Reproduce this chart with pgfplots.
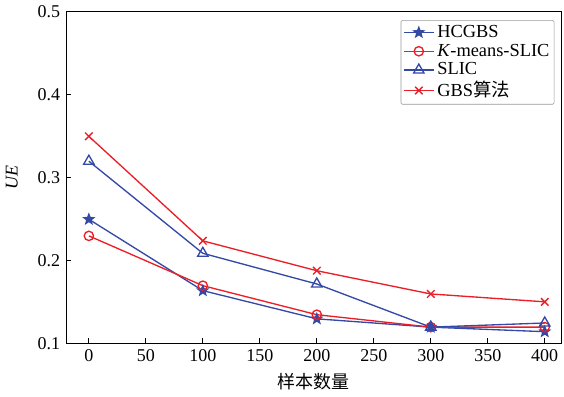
\documentclass[border=0pt]{standalone}
\usepackage{pgfplots}
\pgfplotsset{compat=1.18}
\usepackage{fontspec}
\setmainfont{Liberation Serif}
\newfontfamily\cjk{Noto Sans CJK SC}
\definecolor{cblue}{RGB}{52,72,165}
\definecolor{cred}{RGB}{235,30,40}
\pgfdeclareplotmark{fstar}{%
  \pgfpathmoveto{\pgfqpointpolar{90}{\pgfplotmarksize}}%
  \pgfpathlineto{\pgfqpointpolar{126}{0.42\pgfplotmarksize}}%
  \pgfpathlineto{\pgfqpointpolar{162}{\pgfplotmarksize}}%
  \pgfpathlineto{\pgfqpointpolar{198}{0.42\pgfplotmarksize}}%
  \pgfpathlineto{\pgfqpointpolar{234}{\pgfplotmarksize}}%
  \pgfpathlineto{\pgfqpointpolar{270}{0.42\pgfplotmarksize}}%
  \pgfpathlineto{\pgfqpointpolar{306}{\pgfplotmarksize}}%
  \pgfpathlineto{\pgfqpointpolar{342}{0.42\pgfplotmarksize}}%
  \pgfpathlineto{\pgfqpointpolar{18}{\pgfplotmarksize}}%
  \pgfpathlineto{\pgfqpointpolar{54}{0.42\pgfplotmarksize}}%
  \pgfpathclose\pgfusepathqfillstroke}
\begin{document}
\fontsize{13pt}{15pt}\selectfont
\begin{tikzpicture}
\begin{axis}[
  scale only axis,
  width=372pt, height=249pt,
  xmin=-20, xmax=415,
  ymin=0.1, ymax=0.5,
  xtick={0,50,...,400},
  ytick={0.1,0.2,0.3,0.4,0.5},
  yticklabel style={/pgf/number format/.cd,fixed,fixed zerofill,precision=1},
  /pgf/number format/assume math mode=true,
  tick align=inside,
  xtick pos=bottom, ytick pos=left,
  major tick length=4pt,
  tick style={black, line width=0.6pt},
  axis line style={line width=0.8pt},
  ticklabel style={font=\fontsize{13.5pt}{15pt}\selectfont},
  xlabel={{\cjk 样本数量}},
  ylabel={\textit{UE}},
  ylabel style={yshift=6pt},
  label style={font=\fontsize{13.5pt}{15pt}\selectfont},
  legend style={font=\fontsize{13.8pt}{15pt}\selectfont, draw=black!40, rounded corners=1pt, at={(0.985,0.975)}, anchor=north east, inner sep=1.5pt, row sep=-1pt},
  legend cell align=left,
  legend image code/.code={\draw[mark repeat=2,mark phase=2] plot coordinates {(0cm,0cm)(0.4cm,0cm)(0.8cm,0cm)};},
  every axis plot/.append style={line width=1pt},
]
\addplot[cblue, mark=fstar, mark size=3.8pt, mark options={solid, fill=cblue}] coordinates {(0,0.250) (100,0.164) (200,0.130) (300,0.120) (400,0.1145)};
\addlegendentry{HCGBS}
\addplot[cred, mark=o, mark size=3.5pt] coordinates {(0,0.230) (100,0.170) (200,0.135) (300,0.120) (400,0.120)};
\addlegendentry{\textit{K}-means-SLIC}
\addplot[cblue, mark=triangle, mark size=4.5pt] coordinates {(0,0.320) (100,0.209) (200,0.172) (300,0.120) (400,0.125)};
\addlegendentry{SLIC}
\addplot[cred, mark=x, mark size=4pt] coordinates {(0,0.350) (100,0.224) (200,0.188) (300,0.160) (400,0.1505)};
\addlegendentry{GBS{\cjk 算法}}
\end{axis}
\end{tikzpicture}
\end{document}
